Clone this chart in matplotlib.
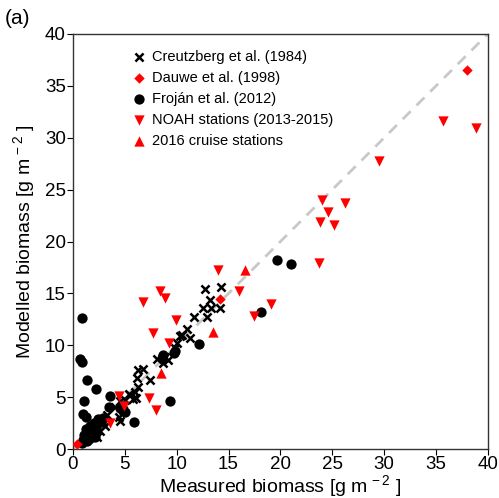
import numpy as np
import matplotlib.pyplot as plt

plt.rcParams["font.family"] = ["Liberation Sans", "DejaVu Sans"]
plt.rcParams["mathtext.fontset"] = "custom"
plt.rcParams["mathtext.rm"] = "Liberation Sans"
plt.rcParams["mathtext.it"] = "Liberation Sans"

# Creutzberg et al. (1984)
creutz_x = [2.3, 2.6, 3.1, 2.9, 3.25, 4.5, 4.4, 4.85, 4.05, 4.5, 5.0, 5.4, 5.8, 6.1, 5.5,
            6.0, 6.3, 6.2, 7.4, 6.3, 6.8, 8.1, 8.7, 8.9, 9.2, 9.8, 10.05, 10.3, 11.3, 10.5,
            11.0, 11.7, 12.9, 12.5, 13.3, 14.2, 13.2, 12.7, 14.3]
creutz_y = [1.2, 1.8, 2.2, 2.6, 3.3, 2.7, 3.1, 3.8, 4.1, 4.6, 4.7, 5.3, 4.8, 4.9, 5.2,
            5.5, 6.0, 6.9, 6.7, 7.6, 7.7, 8.7, 8.3, 8.9, 8.6, 9.7, 10.2, 10.9, 10.7, 11.0,
            11.6, 12.7, 12.7, 13.6, 13.6, 13.6, 14.4, 15.4, 15.6]

# Dauwe et al. (1998)
dauwe_x = [0.4, 14.2, 38.0]
dauwe_y = [0.5, 14.5, 36.5]

# Frojan et al. (2012)
frojan_x = [0.84, 0.67, 0.84, 1.4, 2.2, 1.06, 3.56, 3.5, 1.0, 1.25, 5.9, 9.4, 8.7, 8.6,
            9.7, 9.8, 12.2, 18.1, 19.65, 21.0,
            0.9, 1.0, 1.2, 1.4, 1.5, 1.3, 1.7, 2.0, 2.2, 2.4, 2.7, 2.9, 1.8, 2.1, 1.1, 1.6,
            4.5, 5.0]
frojan_y = [12.6, 8.7, 8.4, 6.7, 5.8, 4.65, 5.1, 4.1, 3.4, 3.1, 2.6, 4.6, 9.1, 8.8,
            9.3, 9.5, 10.1, 13.2, 18.2, 17.8,
            0.6, 0.9, 1.2, 0.8, 1.5, 1.9, 2.2, 2.5, 2.0, 2.9, 2.6, 3.0, 1.6, 1.2, 1.4, 1.0,
            4.0, 3.6]

# NOAH stations (2013-2015)
noah_x = [3.6, 4.4, 4.9, 7.35, 8.0, 7.7, 9.3, 9.9, 6.8, 8.35, 8.9, 14.0, 16.0, 17.5,
          19.1, 23.7, 23.8, 24.0, 24.6, 25.2, 26.2, 29.5, 35.7, 38.8]
noah_y = [2.5, 5.1, 4.2, 4.9, 3.8, 11.2, 10.2, 12.4, 14.2, 15.2, 14.6, 17.3, 15.2, 12.8,
          14.0, 17.9, 21.9, 24.0, 22.8, 21.6, 23.7, 27.8, 31.6, 30.9]

# 2016 cruise stations
cruise_x = [8.5, 13.5, 16.6]
cruise_y = [7.3, 11.3, 17.25]

red = "#ff0000"

fig = plt.figure(figsize=(4.99, 4.98), dpi=100)
ax = fig.add_axes([0.146, 0.098, 0.832, 0.834])

ax.plot([0, 40], [0, 40], color="#c8c8c8", lw=2, dashes=(4, 3), zorder=1)

ax.scatter(creutz_x, creutz_y, marker="x", s=34, c="black", linewidths=1.8,
           label="Creutzberg et al. (1984)", zorder=3)
ax.scatter(dauwe_x, dauwe_y, marker="D", s=28, c=red, linewidths=0,
           label="Dauwe et al. (1998)", zorder=3)
ax.scatter(frojan_x, frojan_y, marker="o", s=55, c="black", linewidths=0,
           label="Froján et al. (2012)", zorder=2)
ax.scatter(noah_x, noah_y, marker="v", s=55, c=red, linewidths=0,
           label="NOAH stations (2013-2015)", zorder=3)
ax.scatter(cruise_x, cruise_y, marker="^", s=55, c=red, linewidths=0,
           label="2016 cruise stations", zorder=3)

ax.set_xlim(0, 40)
ax.set_ylim(0, 40)
ax.set_xticks(np.arange(0, 41, 5))
ax.set_yticks(np.arange(0, 41, 5))
ax.tick_params(direction="out", length=4, labelsize=13.5, pad=1)
for s in ax.spines.values():
    s.set_color("#333333")
    s.set_linewidth(1)

ax.set_xlabel(r"Measured biomass [g m$^{\,-2}$ ]", fontsize=14, labelpad=0)
ax.set_ylabel(r"Modelled biomass [g m$^{\,-2}$ ]", fontsize=14, labelpad=6)

ax.legend(loc="upper left", bbox_to_anchor=(0.125, 0.976), frameon=False,
          fontsize=10.5, handletextpad=0.3, labelspacing=0.48, handlelength=1.2,
          borderaxespad=0)

fig.text(0.01, 0.952, "(a)", fontsize=15)

fig.savefig("out.png", dpi=100)
